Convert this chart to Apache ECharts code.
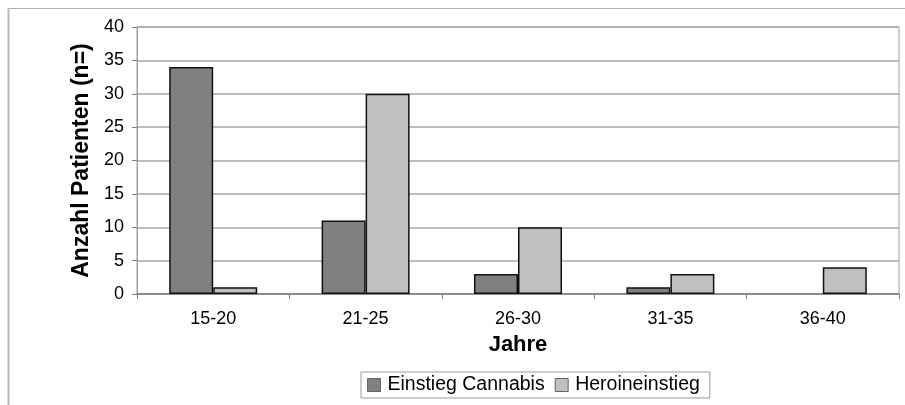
<!DOCTYPE html>
<html>
<head>
<meta charset="utf-8">
<script src="https://cdn.jsdelivr.net/npm/echarts@6/dist/echarts.min.js"></script>
<style>
  html, body { margin: 0; padding: 0; background: #fff; }
  #chart { width: 905px; height: 405px; }
</style>
</head>
<body>
<div id="chart"></div>
<script>
// Age groups (years) at first use
const categories = ['15-20', '21-25', '26-30', '31-35', '36-40'];
// Number of patients per age group
const cannabisStart = [34, 11, 3, 1, 0];
const heroinStart = [1, 30, 10, 3, 4];
const seriesNames = ['Einstieg Cannabis', 'Heroineinstieg'];
const yTicks = { min: 0, max: 40, interval: 5 };

const FONT = '"Liberation Sans", Arial, sans-serif';

// zero-height bars get no outline so they don't show as a stroke on the axis
const toBarData = values => values.map(v => (v === 0 ? { value: v, itemStyle: { borderWidth: 0 } } : v));

const chart = echarts.init(document.getElementById('chart'), null, { renderer: 'canvas' });

chart.setOption({
  animation: false,
  backgroundColor: '#fff',
  textStyle: { fontFamily: FONT, color: '#000' },
  grid: {
    left: 137, right: 6, top: 27, bottom: 111,
    show: true, borderColor: '#a0a0a0', borderWidth: 1
  },
  graphic: [
    // outer frame (top and left edges)
    { type: 'line', shape: { x1: 8, y1: 8.5, x2: 905, y2: 8.5 }, style: { stroke: '#b0b0b0', lineWidth: 1 } },
    { type: 'line', shape: { x1: 8.5, y1: 8, x2: 8.5, y2: 405 }, style: { stroke: '#b8b8b8', lineWidth: 2 } }
  ],
  legend: {
    data: seriesNames,
    left: 361, bottom: 7,
    orient: 'horizontal',
    itemWidth: 13, itemHeight: 13, itemGap: 10,
    padding: [3, 10, 3, 6],
    borderColor: '#999', borderWidth: 1,
    icon: 'rect',
    itemStyle: { borderColor: '#666', borderWidth: 1 },
    textStyle: { fontFamily: FONT, fontSize: 19.5, color: '#000', padding: [0, 0, 0, 2] }
  },
  xAxis: {
    type: 'category',
    data: categories,
    name: 'Jahre',
    nameLocation: 'middle',
    nameGap: 40,
    nameTextStyle: { fontFamily: FONT, fontSize: 22, fontWeight: 'bold', color: '#000' },
    axisLine: { lineStyle: { color: '#808080', width: 1.5 } },
    axisTick: { show: true, length: 5, lineStyle: { color: '#808080' } },
    axisLabel: { fontFamily: FONT, fontSize: 18, color: '#000', margin: 16 },
    splitLine: { show: false }
  },
  yAxis: {
    type: 'value',
    min: yTicks.min, max: yTicks.max, interval: yTicks.interval,
    name: 'Anzahl Patienten (n=)',
    nameLocation: 'middle',
    nameGap: 44,
    nameTextStyle: { fontFamily: FONT, fontSize: 23, fontWeight: 'bold', color: '#000' },
    axisLine: { show: true, lineStyle: { color: '#a0a0a0', width: 1 } },
    axisTick: { show: true, length: 5, lineStyle: { color: '#808080' } },
    axisLabel: { fontFamily: FONT, fontSize: 18, color: '#000', margin: 13 },
    splitLine: { show: true, lineStyle: { color: '#a8a8a8', width: 1.5 } }
  },
  series: [
    {
      name: seriesNames[0],
      type: 'bar',
      data: toBarData(cannabisStart),
      barWidth: 44,
      barGap: '0%',
      itemStyle: { color: '#808080', borderColor: '#111', borderWidth: 1.5 }
    },
    {
      name: seriesNames[1],
      type: 'bar',
      data: toBarData(heroinStart),
      barWidth: 44,
      barGap: '0%',
      itemStyle: { color: '#c0c0c0', borderColor: '#111', borderWidth: 1.5 }
    }
  ]
});
</script>
</body>
</html>
